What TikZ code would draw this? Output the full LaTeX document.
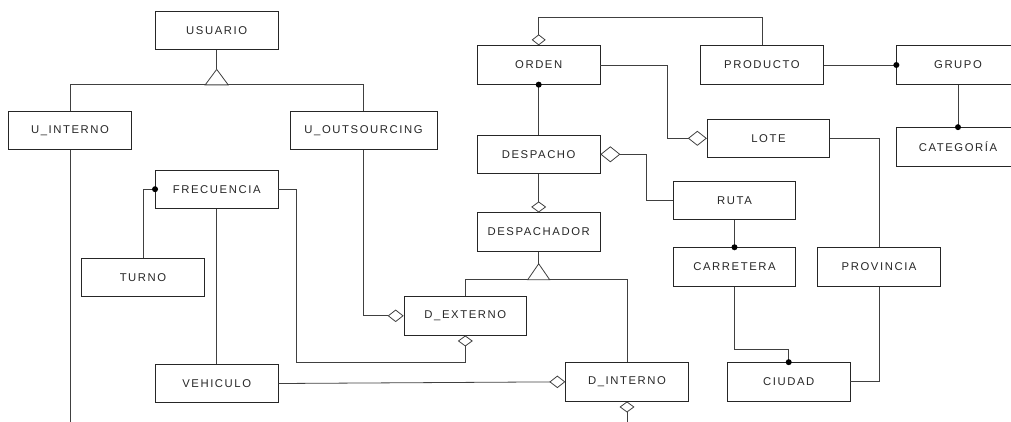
\documentclass[tikz,border=0pt]{standalone}
\usepackage{fontspec}
\usepackage{tikz}
\usetikzlibrary{arrows.meta,positioning}
\newfontfamily\entfont[LetterSpace=14]{Liberation Sans}

\begin{document}
\begin{tikzpicture}[
    x=1pt, y=-1pt,
    entity/.style={rectangle, draw=black!85, line width=0.8pt, minimum width=122.5pt, minimum height=38.5pt, inner sep=0pt, align=center, text=black!85, font=\entfont\fontsize{11.3}{13}\selectfont},
    link/.style={draw=black!75, line width=0.8pt},
    aggh/.style={link, -{Diamond[open, length=16pt, width=12.5pt]}},
    aggv/.style={link, -{Diamond[open, length=11pt, width=15pt]}}
]
\useasboundingbox (0,0) rectangle (1011,421);

% Usuarios
\node[entity] (usuario) at (216.7,30.2) {USUARIO};
\node[entity] (u_interno) at (70,130.5) {U\_INTERNO};
\node[entity, minimum width=147pt, right=158pt of u_interno] (u_outsourcing) {U\_OUTSOURCING};
\node[entity, below=119.7pt of usuario] (frecuencia) {FRECUENCIA};
\node[entity] (turno) at (143,277.3) {TURNO};
\node[entity, below=155pt of frecuencia] (vehiculo) {VEHICULO};

% Orden y despacho
\node[entity] (orden) at (538.7,65) {ORDEN};
\node[entity, right=100pt of orden] (producto) {PRODUCTO};
\node[entity, right=72.7pt of producto] (grupo) {GRUPO};
\node[entity, below=42.5pt of grupo] (categoria) {CATEGORÍA};
\node[entity, below=50pt of orden] (despacho) {DESPACHO};
\node[entity, below=38.5pt of despacho] (despachador) {DESPACHADOR};
\node[entity] (lote) at (768.5,138.3) {LOTE};
\node[entity] (d_externo) at (465.3,315.8) {D\_EXTERNO};
\node[entity] (d_interno) at (627,381.8) {D\_INTERNO};

% Rutas
\node[entity] (ruta) at (734.5,200.2) {RUTA};
\node[entity, below=27.4pt of ruta] (carretera) {CARRETERA};
\node[entity, right=21.3pt of carretera] (provincia) {PROVINCIA};
\node[entity, right=38.4pt of d_interno] (ciudad) {CIUDAD};

% Generalizaciones
\coordinate[below=19.5pt of usuario] (usuario_gen);
\coordinate[below=35pt of usuario] (usuario_bar);
\draw[link] (usuario.south) -- (usuario_gen);
\draw[link] (u_interno.north) |- (usuario_bar) -| (u_outsourcing.north);
\draw[link, fill=white] (usuario_gen) -- ([xshift=-11.5pt]usuario_bar) -- ([xshift=11.5pt]usuario_bar) -- cycle;

\coordinate[below=12pt of despachador] (despachador_gen);
\coordinate[below=28pt of despachador] (despachador_bar);
\draw[link] (despachador.south) -- (despachador_gen);
\draw[link] (d_externo.north) |- (despachador_bar) -| (d_interno.north);
\draw[link, fill=white] (despachador_gen) -- ([xshift=-11pt]despachador_bar) -- ([xshift=11pt]despachador_bar) -- cycle;

\coordinate[below=280pt of u_interno] (u_interno_end);
\draw[link] (u_interno.south) -- (u_interno_end);

% Relaciones de orden
\draw[aggv, -{Diamond[open, length=11pt, width=14pt]}] (producto.north) -- ++(0,-28.4) -| (orden.north);
\draw[link] (orden.south) -- (despacho.north);
\fill (orden.south) circle (3pt);
\draw[aggv] (despacho.south) -- (despachador.north);
\draw[link, -{Diamond[open, length=19pt, width=15pt]}] (orden.east) -- ++(67.3,0) |- (lote.west);
\draw[link] (lote.east) -| (provincia.north);
\draw[link] (producto.east) -- (grupo.west);
\fill (grupo.west) circle (3pt);
\draw[link] (grupo.south) -- (categoria.north);
\fill (categoria.north) circle (3pt);

% Relaciones de ruta
\draw[link, {Diamond[open, length=20pt, width=16pt]}-] (despacho.east) -- ++(46,0) |- (ruta.west);
\draw[link] (ruta.south) -- (carretera.north);
\fill (carretera.north) circle (3pt);
\draw[link] (carretera.south) -- ++(0,62.4) -| (ciudad.north);
\fill (ciudad.north) circle (3pt);
\draw[link] (provincia.south) |- (ciudad.east);

% Frecuencia y despachadores
\draw[link] (frecuencia.west) -| (turno.north);
\fill (frecuencia.west) circle (3pt);
\draw[link] (frecuencia.south) -- (vehiculo.north);
\draw[aggv] (frecuencia.east) -- ++(18.3,0) -- ++(0,173) -| (d_externo.south);
\draw[aggh] (u_outsourcing.south) |- (d_externo.west);
\draw[aggh] (vehiculo.east) -- (d_interno.west);
\coordinate[below=25pt of d_interno] (d_interno_end);
\draw[link, {Diamond[open, length=11pt, width=15pt]}-] (d_interno.south) -- (d_interno_end);

\end{tikzpicture}
\end{document}
